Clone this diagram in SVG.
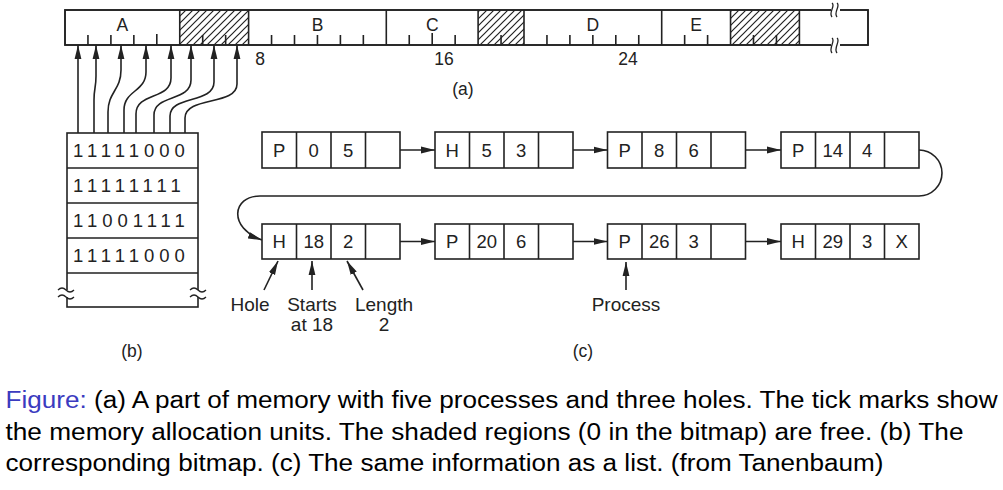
<svg xmlns="http://www.w3.org/2000/svg" width="1003" height="490" viewBox="0 0 1003 490">
<defs>
<pattern id="hatch" patternUnits="userSpaceOnUse" width="7" height="7">
<path d="M-1,1 L1,-1 M0,7 L7,0 M6,8 L8,6" stroke="#222" stroke-width="1.2"/>
</pattern>
<marker id="ah" viewBox="0 0 14 8" refX="14" refY="4" markerWidth="14" markerHeight="8" markerUnits="userSpaceOnUse" orient="auto">
<path d="M0,0.6 L14,4 L0,7.4 z" fill="#222"/>
</marker>
<style>
.ln{fill:none;stroke:#222;stroke-width:1.6}
.ar{fill:none;stroke:#222;stroke-width:1.6;marker-end:url(#ah)}
.bx{fill:#fff;stroke:#222;stroke-width:1.6}
.t{font-family:"Liberation Sans",Arial,sans-serif;fill:#222;font-size:17.5px;text-anchor:middle}
.n{font-family:"Liberation Sans",Arial,sans-serif;fill:#222;font-size:18.5px;text-anchor:middle}
.lb{font-family:"Liberation Sans",Arial,sans-serif;fill:#222;font-size:19px;text-anchor:middle}
.bits{font-family:"Liberation Sans",Arial,sans-serif;fill:#222;font-size:18.5px;letter-spacing:5px}
.cap{font-family:"Liberation Sans",Arial,sans-serif;fill:#000;font-size:23.5px}
</style>
</defs>
<rect width="1003" height="490" fill="#fff"/>

<g id="memory">
<rect class="bx" x="65" y="10" width="803" height="35"/>
<rect x="179.75" y="10" width="68.85" height="35" fill="url(#hatch)"/>
<rect x="478.1" y="10" width="45.9" height="35" fill="url(#hatch)"/>
<rect x="730.55" y="10" width="68.85" height="35" fill="url(#hatch)"/>
<rect class="ln" x="65" y="10" width="803" height="35"/>
<path class="ln" d="M179.75 10V45 M248.6 10V45 M386.3 10V45 M478.1 10V45 M524 10V45 M661.7 10V45 M730.55 10V45 M799.4 10V45"/>
<path class="ln" d="M87.95 45v-10 M110.9 45v-10 M133.85 45v-10 M156.8 45v-11 M202.7 45v-10 M225.65 45v-10 M271.55 45v-10 M294.5 45v-10 M317.45 45v-10 M340.4 45v-10 M363.35 45v-10 M409.25 45v-10 M432.2 45v-12 M455.15 45v-10 M501.05 45v-10 M546.95 45v-10 M569.9 45v-10 M592.85 45v-10 M615.8 45v-10 M638.75 45v-10 M684.65 45v-10 M707.6 45v-10 M753.5 45v-10 M776.45 45v-10"/>
<rect x="831" y="4" width="9" height="13" fill="#fff"/>
<rect x="831" y="38" width="9" height="14" fill="#fff"/>
<path d="M832 3 C836 6 828 12 832 17 M837 3 C841 6 833 12 837 17 M832 38 C836 41 828 48 832 53 M837 38 C841 41 833 48 837 53" fill="none" stroke="#222" stroke-width="1.3"/>
<text class="t" x="122.4" y="31">A</text>
<text class="t" x="317.5" y="31">B</text>
<text class="t" x="432.2" y="31">C</text>
<text class="t" x="592.85" y="31">D</text>
<text class="t" x="696.1" y="31">E</text>
<text class="t" x="260" y="65">8</text>
<text class="t" x="444" y="65">16</text>
<text class="t" x="628" y="65">24</text>
<text class="t" x="463" y="95">(a)</text>
</g>

<g id="bitmap">
<rect class="bx" x="67" y="133" width="131" height="174"/>
<path class="ln" d="M67 168H198 M67 203H198 M67 238H198 M67 273H198"/>
<text class="bits" x="73" y="157">11111000</text>
<text class="bits" x="73" y="192">11111111</text>
<text class="bits" x="73" y="227">11001111</text>
<text class="bits" x="73" y="262">11111000</text>
<rect x="62" y="290" width="10" height="7" fill="#fff"/>
<rect x="193" y="290" width="10" height="7" fill="#fff"/>
<path d="M58 290 q4 -4 8 0 t8 0 M58 297 q4 -4 8 0 t8 0 M190 290 q4 -4 8 0 t8 0 M190 297 q4 -4 8 0 t8 0" fill="none" stroke="#222" stroke-width="1.3"/>
<text class="t" x="132" y="357">(b)</text>
</g>

<g id="connectors">
<path class="ar" d="M78 133 V45"/>
<path class="ar" d="M94 133 V100 C94 88 96 88 96 76 V45"/>
<path class="ar" d="M108 133 V112 C108 92 121 90 121 70 V45"/>
<path class="ar" d="M124 133 V110 C124 90 146 92 146 72 V45"/>
<path class="ar" d="M136 133 V114 C136 92 171 100 171 78 V45"/>
<path class="ar" d="M154 133 V115 C154 94 191 102 191 80 V45"/>
<path class="ar" d="M170 133 V116 C170 95 214 104 214 82 V45"/>
<path class="ar" d="M185 133 V118 C185 96 237 106 237 84 V45"/>
<path class="ar" d="M383 150 H435"/>
<path class="ar" d="M556 150 H607.5"/>
<path class="ar" d="M728 150 H781"/>
<path class="ar" d="M902 150 H919 A23 23 0 0 1 919 196 H260 C232 196 228 228 262 240"/>
<path class="ar" d="M383 241.5 H435"/>
<path class="ar" d="M556 241.5 H607.5"/>
<path class="ar" d="M728 241.5 H781"/>
<path class="ar" d="M264 290 L278 261"/>
<path class="ar" d="M312 290 V261"/>
<path class="ar" d="M363 290 L347 261"/>
<path class="ar" d="M626 290 V262"/>
</g>

<g id="node1">
<rect class="bx" x="262" y="132" width="138" height="36"/>
<path class="ln" d="M296.5 132V168 M331 132V168 M365.5 132V168"/>
<text class="n" x="279.25" y="156.5">P</text><text class="n" x="313.75" y="156.5">0</text><text class="n" x="348.25" y="156.5">5</text>
</g>
<g id="node2">
<rect class="bx" x="435" y="132" width="138" height="36"/>
<path class="ln" d="M469.5 132V168 M504 132V168 M538.5 132V168"/>
<text class="n" x="452.25" y="156.5">H</text><text class="n" x="486.75" y="156.5">5</text><text class="n" x="521.25" y="156.5">3</text>
</g>
<g id="node3">
<rect class="bx" x="607.5" y="132" width="138" height="36"/>
<path class="ln" d="M642 132V168 M676.5 132V168 M711 132V168"/>
<text class="n" x="624.75" y="156.5">P</text><text class="n" x="659.25" y="156.5">8</text><text class="n" x="693.75" y="156.5">6</text>
</g>
<g id="node4">
<rect class="bx" x="781" y="132" width="138" height="36"/>
<path class="ln" d="M815.5 132V168 M850 132V168 M884.5 132V168"/>
<text class="n" x="798.25" y="156.5">P</text><text class="n" x="832.75" y="156.5">14</text><text class="n" x="867.25" y="156.5">4</text>
</g>
<g id="node5">
<rect class="bx" x="262" y="224" width="138" height="35"/>
<path class="ln" d="M296.5 224V259 M331 224V259 M365.5 224V259"/>
<text class="n" x="279.25" y="248">H</text><text class="n" x="313.75" y="248">18</text><text class="n" x="348.25" y="248">2</text>
</g>
<g id="node6">
<rect class="bx" x="435" y="224" width="138" height="35"/>
<path class="ln" d="M469.5 224V259 M504 224V259 M538.5 224V259"/>
<text class="n" x="452.25" y="248">P</text><text class="n" x="486.75" y="248">20</text><text class="n" x="521.25" y="248">6</text>
</g>
<g id="node7">
<rect class="bx" x="607.5" y="224" width="138" height="35"/>
<path class="ln" d="M642 224V259 M676.5 224V259 M711 224V259"/>
<text class="n" x="624.75" y="248">P</text><text class="n" x="659.25" y="248">26</text><text class="n" x="693.75" y="248">3</text>
</g>
<g id="node8">
<rect class="bx" x="781" y="224" width="138" height="35"/>
<path class="ln" d="M815.5 224V259 M850 224V259 M884.5 224V259"/>
<text class="n" x="798.25" y="248">H</text><text class="n" x="832.75" y="248">29</text><text class="n" x="867.25" y="248">3</text><text class="n" x="901.75" y="248">X</text>
</g>

<g id="labels">
<text class="lb" x="250" y="311">Hole</text>
<text class="lb" x="312" y="311">Starts</text>
<text class="lb" x="312" y="331">at 18</text>
<text class="lb" x="384" y="311">Length</text>
<text class="lb" x="384" y="331">2</text>
<text class="lb" x="626" y="311">Process</text>
<text class="t" x="583" y="357">(c)</text>
</g>

<g id="caption">
<text class="cap" x="5.5" y="408" textLength="992" lengthAdjust="spacingAndGlyphs"><tspan fill="#3b3bbf">Figure:</tspan> (a) A part of memory with five processes and three holes. The tick marks show</text>
<text class="cap" x="5.5" y="440" textLength="958" lengthAdjust="spacingAndGlyphs">the memory allocation units. The shaded regions (0 in the bitmap) are free. (b) The</text>
<text class="cap" x="5.5" y="471" textLength="878" lengthAdjust="spacingAndGlyphs">corresponding bitmap. (c) The same information as a list. (from Tanenbaum)</text>
</g>
</svg>
